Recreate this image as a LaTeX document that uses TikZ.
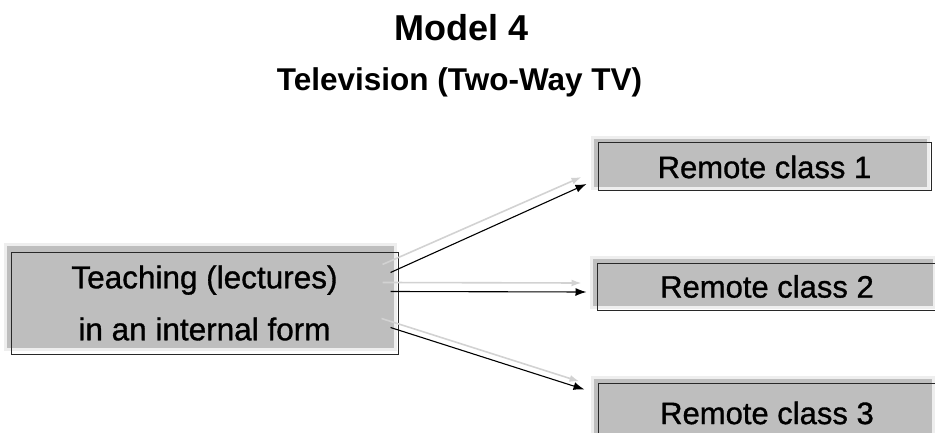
\documentclass[tikz,border=0pt]{standalone}
\usepackage{fontspec}
\setmainfont{Liberation Sans}
\newfontfamily\boxfont[FakeBold=1.0]{Liberation Sans}
\usetikzlibrary{arrows.meta,shadows,calc}

\definecolor{boxgray}{RGB}{190,190,190}
\definecolor{halogray}{RGB}{238,238,238}
\definecolor{ghostgray}{RGB}{210,210,210}
\definecolor{edgegray}{RGB}{40,40,40}

\begin{document}
\begin{tikzpicture}[x=1pt,y=-1pt,
  panel/.style={draw=edgegray, line width=1pt, inner sep=0pt,
    general shadow={draw=halogray, line width=6pt, shadow xshift=-4pt, shadow yshift=#1},
    general shadow={fill=boxgray, shadow xshift=-4pt, shadow yshift=#1}},
  mainpanel/.style={panel=6pt, font=\boxfont\fontsize{31.5}{52}\selectfont, align=center},
  sidepanel/.style={panel=4pt, font=\boxfont\fontsize{31}{36}\selectfont},
  link/.style={draw=black, line width=1.1pt, -{Latex[length=11pt,width=8pt]}},
  ghost/.style={draw=ghostgray, line width=1.6pt, -{Latex[length=10pt,width=7pt]}}
]
\useasboundingbox (0,0) rectangle (935,433);
\clip (0,0) rectangle (935,433);

% headings
\node[font=\bfseries\fontsize{36}{40}\selectfont, anchor=base] (title) at (461.5,41) {Model 4};
\node[font=\bfseries\fontsize{31.5}{36}\selectfont, anchor=base] (sub) at (459.5,91) {Television (Two-Way TV)};

% source box
\node[mainpanel, minimum width=387pt, minimum height=102pt] (L) at (204.5,303)
  {Teaching (lectures)\\in an internal form};

% remote classes
\node[sidepanel, minimum width=333pt, minimum height=48pt] (R1) at (764.5,167) {Remote class 1};
\node[sidepanel, minimum width=340pt, minimum height=47pt] (R2) at (767,286.5) {Remote class 2};
\node[sidepanel, minimum width=338pt, minimum height=60pt] (R3) at (767,413) {Remote class 3};

% arrow end points
\coordinate (s1) at ([shift={(-8,21)}]L.north east);
\coordinate (s2) at ([shift={(-8,40)}]L.north east);
\coordinate (s3) at ([shift={(-8,76)}]L.north east);
\coordinate (t1) at ([shift={(-11,17)}]R1.west);
\coordinate (t2) at ([shift={(-10,5.5)}]R2.west);
\coordinate (t3) at ([shift={(-13,7)}]R3.north west);

% faint copies behind the arrows
\draw[ghost] ([shift={(-8,-8)}]s1) -- ([shift={(-5,-7)}]t1);
\draw[ghost] ([shift={(-8,-9)}]s2) -- ([shift={(-5,-9)}]t2);
\draw[ghost] ([shift={(-9,-9)}]s3) -- ([shift={(-5,-8)}]t3);

% arrows
\draw[link] (s1) -- (t1);
\draw[link] (s2) -- (t2);
\draw[link] (s3) -- (t3);
\end{tikzpicture}
\end{document}
